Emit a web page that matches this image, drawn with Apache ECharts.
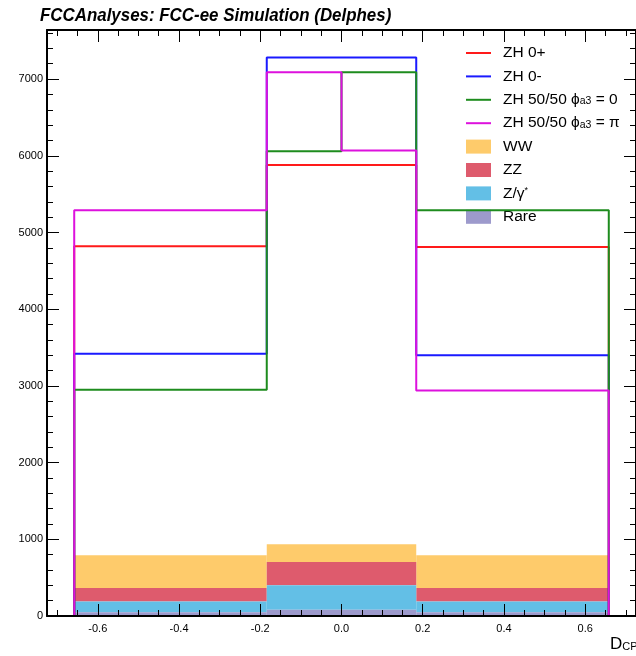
<!DOCTYPE html>
<html>
<head>
<meta charset="utf-8">
<script src="https://cdn.jsdelivr.net/npm/echarts@6/dist/echarts.min.js"></script>
<style>html,body{margin:0;padding:0;background:#fff}#c{width:636px;height:656px}</style>
</head>
<body>
<div id="c"></div>
<script>
// ---- data ----
const binEdges3 = [-0.658, -0.184, 0.184, 0.658];
const binEdges4 = [-0.658, -0.184, 0, 0.184, 0.658];
const zh0plus = [4820, 5880, 4810];
const zh0minus = [3420, 7280, 3400];
const zhMixPhi0 = [2950, 6060, 7090, 5290];
const zhMixPhiPi = [5290, 7090, 6070, 2940];
const bkgRare = [48, 83, 48];
const bkgZgamma = [140, 317, 140];
const bkgZZ = [177, 304, 177];
const bkgWW = [426, 231, 426];
const xTickLabels = [-0.6, -0.4, -0.2, 0.0, 0.2, 0.4, 0.6];
const xMinorTicks = [-0.7, -0.65, -0.55, -0.5, -0.45, -0.35, -0.3, -0.25, -0.15, -0.1, -0.05, 0.05, 0.1, 0.15, 0.25, 0.3, 0.35, 0.45, 0.5, 0.55, 0.65, 0.7];
const yTickLabels = [0, 1000, 2000, 3000, 4000, 5000, 6000, 7000];
const yMinorTicks = [200, 400, 600, 800, 1200, 1400, 1600, 1800, 2200, 2400, 2600, 2800, 3200, 3400, 3600, 3800, 4200, 4400, 4600, 4800, 5200, 5400, 5600, 5800, 6200, 6400, 6600, 6800, 7200, 7400, 7600];
const seriesNames = ['ZH 0+', 'ZH 0-', 'ZH 50/50 phi0', 'ZH 50/50 phipi', 'WW', 'ZZ', 'Zgamma', 'Rare'];
const legendLabels = ['ZH 0+', 'ZH 0-', 'ZH 50/50 {g|ϕ}{sub|a3}{n| = 0}', 'ZH 50/50 {g|ϕ}{sub|a3}{n| = π}', 'WW', 'ZZ', 'Z/γ{sup|*}', 'Rare'];

const lineColors = ['#ff1a1a', '#1a1aff', '#1e8c1e', '#dd11dd'];
const fillColors = {WW: '#fecb6b', ZZ: '#de5b6d', Zgamma: '#63bfe6', Rare: '#9d9acc'};
const FONT = "'Liberation Sans', Arial, sans-serif";

function stepPoints(edges, vals) {
  const pts = [[edges[0], 0]];
  for (let i = 0; i < vals.length; i++) {
    pts.push([edges[i], vals[i]]);
    pts.push([edges[i + 1], vals[i]]);
  }
  pts.push([edges[edges.length - 1], 0]);
  return pts;
}

// stacked backgrounds, bottom to top
const stackOrder = [['Rare', bkgRare], ['Zgamma', bkgZgamma], ['ZZ', bkgZZ], ['WW', bkgWW]];
const cum = [0, 0, 0];
const fillSeries = [];
stackOrder.forEach(([name, vals]) => {
  const data = vals.map((v, i) => {
    const d = [binEdges3[i], binEdges3[i + 1], cum[i], cum[i] + v];
    cum[i] += v;
    return d;
  });
  fillSeries.push({
    name: name, type: 'custom', xAxisIndex: 0, yAxisIndex: 0, z: 1,
    itemStyle: {color: fillColors[name]},
    encode: {x: [0, 1], y: [2, 3]},
    data: data,
    renderItem: function (params, api) {
      const p0 = api.coord([api.value(0), api.value(3)]);
      const p1 = api.coord([api.value(1), api.value(2)]);
      return {type: 'rect', shape: {x: p0[0], y: p0[1], width: p1[0] - p0[0], height: p1[1] - p0[1]},
              style: {fill: fillColors[name]}};
    }
  });
});

const lineData = [stepPoints(binEdges3, zh0plus), stepPoints(binEdges3, zh0minus),
                  stepPoints(binEdges4, zhMixPhi0), stepPoints(binEdges4, zhMixPhiPi)];
const lineSeries = lineData.map((d, i) => ({
  name: seriesNames[i], type: 'line', data: d, symbol: 'none', showSymbol: false,
  xAxisIndex: 0, yAxisIndex: 0, z: 3 + i,
  color: lineColors[i],
  lineStyle: {color: lineColors[i], width: 2}, itemStyle: {color: lineColors[i]}
}));

const XMIN = -0.725, XMAX = 0.725, YMIN = 0, YMAX = 7640;
const tickStyle = {color: '#000', width: 1};
function xAx(pos, values, len, labels, showLine) {
  return {type: 'value', position: pos, min: XMIN, max: XMAX, gridIndex: 0, z: 10,
    axisLine: {show: showLine, onZero: false, lineStyle: {color: '#000', width: 2}},
    axisTick: {show: true, inside: true, length: len, customValues: values, lineStyle: tickStyle},
    axisLabel: labels ? {show: true, customValues: values, margin: 7, fontSize: 11, color: '#000', fontFamily: FONT,
                 formatter: v => v.toFixed(1)} : {show: false},
    splitLine: {show: false}};
}
function yAx(pos, values, len, labels, showLine) {
  return {type: 'value', position: pos, min: YMIN, max: YMAX, gridIndex: 0, z: 10,
    axisLine: {show: showLine, onZero: false, lineStyle: {color: '#000', width: 2}},
    axisTick: {show: true, inside: true, length: len, customValues: values, lineStyle: tickStyle},
    axisLabel: labels ? {show: true, customValues: values, margin: 4, fontSize: 11, color: '#000', fontFamily: FONT,
                 formatter: v => String(v)} : {show: false},
    splitLine: {show: false}};
}

const lineIcon = 'path://M0,0H25V2H0Z';
const option = {
  animation: false,
  backgroundColor: '#fff',
  grid: {left: 47, top: 30, width: 591, height: 586, containLabel: false},
  xAxis: [
    xAx('bottom', xTickLabels, 12, true, true),
    xAx('bottom', xMinorTicks, 6, false, false),
    xAx('top', xTickLabels, 12, false, true),
    xAx('top', xMinorTicks, 6, false, false)
  ],
  yAxis: [
    yAx('left', yTickLabels, 12, true, true),
    yAx('left', yMinorTicks, 6, false, false),
    yAx('right', yTickLabels, 12, false, true),
    yAx('right', yMinorTicks, 6, false, false)
  ],
  legend: {
    orient: 'vertical', left: 466, top: 45, padding: 0, itemWidth: 25, itemHeight: 14, itemGap: 7.4,
    selectedMode: false,
    data: seriesNames.map((n, i) => i < 4 ? {name: n, icon: lineIcon} : {name: n, icon: 'rect'}),
    formatter: name => legendLabels[seriesNames.indexOf(name)],
    textStyle: {fontFamily: FONT, fontSize: 15.5, color: '#000', lineHeight: 14, padding: [0, 0, 0, 7],
      rich: {
        g: {fontFamily: FONT, fontSize: 15.5, lineHeight: 14, color: '#000'},
        n: {fontFamily: FONT, fontSize: 15.5, lineHeight: 14, color: '#000'},
        sub: {fontFamily: FONT, fontSize: 10.5, lineHeight: 9, verticalAlign: 'bottom', color: '#000'},
        sup: {fontFamily: FONT, fontSize: 9, lineHeight: 2, verticalAlign: 'top', color: '#000'}
      }}
  },
  graphic: [
    {type: 'text', x: 40, y: 6, z: 20, scaleX: 0.9,
     style: {text: 'FCCAnalyses: FCC-ee Simulation (Delphes)', fontFamily: FONT, fontSize: 18.8,
             fontWeight: 'bold', fontStyle: 'italic', fill: '#000'}},
    {type: 'text', x: 610, y: 636, z: 20,
     style: {text: '{d|D}{s|CP}', fill: '#000',
       rich: {d: {fontFamily: FONT, fontSize: 17, lineHeight: 16, fill: '#000'},
              s: {fontFamily: FONT, fontSize: 11, lineHeight: 9, verticalAlign: 'bottom', fill: '#000'}}}}
  ],
  series: fillSeries.slice().reverse().concat(lineSeries)
};
const chart = echarts.init(document.getElementById('c'), null, {renderer: 'canvas'});
chart.setOption(option);
</script>
</body>
</html>
